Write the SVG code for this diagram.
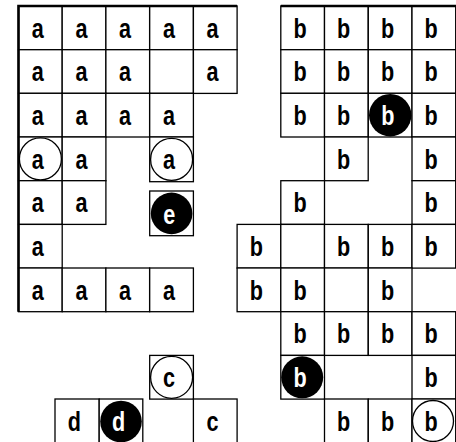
<svg xmlns="http://www.w3.org/2000/svg" width="456" height="442" viewBox="0 0 456 442">
<style>
.c rect{fill:#fff;stroke:#000;stroke-width:1.3}
.c text{font-family:"Liberation Sans",Arial,sans-serif;font-size:27px;font-weight:bold;text-anchor:middle;fill:#000;transform:translate(19.2px,31.6px) scaleX(0.8)}
.c .w{fill:#fff}
.ring{fill:#fff;stroke:#000;stroke-width:1.3}
.dot{fill:#000}
.edge{stroke:#000;stroke-width:2.6;fill:none}
</style>
<rect width="456" height="442" fill="#fff"/>
<g id="group-a">
<g id="a-r0c0" class="c" transform="translate(18.5,6)"><rect width="43.7" height="43.7"/><text>a</text></g>
<g id="a-r0c1" class="c" transform="translate(62.2,6)"><rect width="43.7" height="43.7"/><text>a</text></g>
<g id="a-r0c2" class="c" transform="translate(105.9,6)"><rect width="43.7" height="43.7"/><text>a</text></g>
<g id="a-r0c3" class="c" transform="translate(149.7,6)"><rect width="43.7" height="43.7"/><text>a</text></g>
<g id="a-r0c4" class="c" transform="translate(193.4,6)"><rect width="43.7" height="43.7"/><text>a</text></g>
<g id="a-r1c0" class="c" transform="translate(18.5,49.7)"><rect width="43.7" height="43.7"/><text>a</text></g>
<g id="a-r1c1" class="c" transform="translate(62.2,49.7)"><rect width="43.7" height="43.7"/><text>a</text></g>
<g id="a-r1c2" class="c" transform="translate(105.9,49.7)"><rect width="43.7" height="43.7"/><text>a</text></g>
<g id="a-r1c3" class="c" transform="translate(149.7,49.7)"><rect width="43.7" height="43.7"/></g>
<g id="a-r1c4" class="c" transform="translate(193.4,49.7)"><rect width="43.7" height="43.7"/><text>a</text></g>
<g id="a-r2c0" class="c" transform="translate(18.5,93.3)"><rect width="43.7" height="43.7"/><text>a</text></g>
<g id="a-r2c1" class="c" transform="translate(62.2,93.3)"><rect width="43.7" height="43.7"/><text>a</text></g>
<g id="a-r2c2" class="c" transform="translate(105.9,93.3)"><rect width="43.7" height="43.7"/><text>a</text></g>
<g id="a-r2c3" class="c" transform="translate(149.7,93.3)"><rect width="43.7" height="43.7"/><text>a</text></g>
<g id="a-r3c0" class="c" transform="translate(18.5,137)"><rect width="43.7" height="43.7"/><circle class="ring" cx="21.9" cy="21.9" r="21"/><text>a</text></g>
<g id="a-r3c1" class="c" transform="translate(62.2,137)"><rect width="43.7" height="43.7"/><text>a</text></g>
<g id="a-r3c3" class="c" transform="translate(149.7,137)"><rect width="43.7" height="44.7"/><circle class="ring" cx="21.9" cy="22.4" r="21"/><text y="0.5">a</text></g>
<g id="a-r4c0" class="c" transform="translate(18.5,180.7)"><rect width="43.7" height="43.7"/><text>a</text></g>
<g id="a-r4c1" class="c" transform="translate(62.2,180.7)"><rect width="43.7" height="43.7"/><text>a</text></g>
<g id="e-cell" class="c" transform="translate(149.7,191)"><rect width="43.7" height="44.7"/><circle class="dot" cx="21.9" cy="22.4" r="20.8"/><text class="w" x="0.3" y="1">e</text></g>
<g id="a-r5c0" class="c" transform="translate(18.5,224.4)"><rect width="43.7" height="43.7"/><text>a</text></g>
<g id="a-r6c0" class="c" transform="translate(18.5,268)"><rect width="43.7" height="43.7"/><text>a</text></g>
<g id="a-r6c1" class="c" transform="translate(62.2,268)"><rect width="43.7" height="43.7"/><text>a</text></g>
<g id="a-r6c2" class="c" transform="translate(105.9,268)"><rect width="43.7" height="43.7"/><text>a</text></g>
<g id="a-r6c3" class="c" transform="translate(149.7,268)"><rect width="43.7" height="43.7"/><text>a</text></g>
</g>
<g id="group-cd">
<g id="c-ring" class="c" transform="translate(149.7,355.4)"><rect width="43.7" height="43.7"/><circle class="ring" cx="21.9" cy="21.9" r="21"/><text>c</text></g>
<g id="c-cell" class="c" transform="translate(193.4,399)"><rect width="43.7" height="43.7"/><text>c</text></g>
<g id="d-cell" class="c" transform="translate(55,399)"><rect width="44.2" height="43.7"/><text x="0.3">d</text></g>
<g id="d-dot" class="c" transform="translate(99.2,399)"><rect width="43.6" height="43.7"/><circle class="dot" cx="21.8" cy="22.5" r="20.8"/><text class="w" x="0.3">d</text></g>
</g>
<g id="group-b">
<g id="b-r0c6" class="c" transform="translate(280.8,6)"><rect width="43.7" height="43.7"/><text>b</text></g>
<g id="b-r0c7" class="c" transform="translate(324.5,6)"><rect width="43.7" height="43.7"/><text>b</text></g>
<g id="b-r0c8" class="c" transform="translate(368.3,6)"><rect width="43.7" height="43.7"/><text>b</text></g>
<g id="b-r0c9" class="c" transform="translate(412,6)"><rect width="43.7" height="43.7"/><text>b</text></g>
<g id="b-r1c6" class="c" transform="translate(280.8,49.7)"><rect width="43.7" height="43.7"/><text>b</text></g>
<g id="b-r1c7" class="c" transform="translate(324.5,49.7)"><rect width="43.7" height="43.7"/><text>b</text></g>
<g id="b-r1c8" class="c" transform="translate(368.3,49.7)"><rect width="43.7" height="43.7"/><text>b</text></g>
<g id="b-r1c9" class="c" transform="translate(412,49.7)"><rect width="43.7" height="43.7"/><text>b</text></g>
<g id="b-r2c6" class="c" transform="translate(280.8,93.3)"><rect width="43.7" height="43.7"/><text>b</text></g>
<g id="b-r2c7" class="c" transform="translate(324.5,93.3)"><rect width="43.7" height="43.7"/><text>b</text></g>
<g id="b-r2c8" class="c" transform="translate(368.3,93.3)"><rect width="43.7" height="43.7"/><circle class="dot" cx="21.9" cy="21.9" r="21.2"/><text class="w" x="0.3">b</text></g>
<g id="b-r2c9" class="c" transform="translate(412,93.3)"><rect width="43.7" height="43.7"/><text>b</text></g>
<g id="b-r3c7" class="c" transform="translate(324.5,137)"><rect width="43.7" height="43.7"/><text>b</text></g>
<g id="b-r3c9" class="c" transform="translate(412,137)"><rect width="43.7" height="43.7"/><text>b</text></g>
<g id="b-r4c6" class="c" transform="translate(280.8,180.7)"><rect width="43.7" height="43.7"/><text>b</text></g>
<g id="b-r4c9" class="c" transform="translate(412,180.7)"><rect width="43.7" height="43.7"/><text>b</text></g>
<g id="b-r5c5" class="c" transform="translate(237.1,224.4)"><rect width="43.7" height="43.7"/><text>b</text></g>
<g id="b-r5c6" class="c" transform="translate(280.8,224.4)"><rect width="43.7" height="43.7"/></g>
<g id="b-r5c7" class="c" transform="translate(324.5,224.4)"><rect width="43.7" height="43.7"/><text>b</text></g>
<g id="b-r5c8" class="c" transform="translate(368.3,224.4)"><rect width="43.7" height="43.7"/><text>b</text></g>
<g id="b-r5c9" class="c" transform="translate(412,224.4)"><rect width="43.7" height="43.7"/><text>b</text></g>
<g id="b-r6c5" class="c" transform="translate(237.1,268)"><rect width="43.7" height="43.7"/><text>b</text></g>
<g id="b-r6c6" class="c" transform="translate(280.8,268)"><rect width="43.7" height="43.7"/><text>b</text></g>
<g id="b-r6c7" class="c" transform="translate(324.5,268)"><rect width="43.7" height="43.7"/></g>
<g id="b-r6c8" class="c" transform="translate(368.3,268)"><rect width="43.7" height="43.7"/><text>b</text></g>
<g id="b-r7c6" class="c" transform="translate(280.8,311.7)"><rect width="43.7" height="43.7"/><text>b</text></g>
<g id="b-r7c7" class="c" transform="translate(324.5,311.7)"><rect width="43.7" height="43.7"/><text>b</text></g>
<g id="b-r7c8" class="c" transform="translate(368.3,311.7)"><rect width="43.7" height="43.7"/><text>b</text></g>
<g id="b-r7c9" class="c" transform="translate(412,311.7)"><rect width="43.7" height="43.7"/><text>b</text></g>
<g id="b-r8c6" class="c" transform="translate(280.8,355.4)"><rect width="43.7" height="43.7"/><circle class="dot" cx="21.4" cy="21.9" r="21"/><text class="w">b</text></g>
<g id="b-r8c9" class="c" transform="translate(412,355.4)"><rect width="43.7" height="43.7"/><text>b</text></g>
<g id="b-r9c7" class="c" transform="translate(324.5,399)"><rect width="43.7" height="43.7"/><text>b</text></g>
<g id="b-r9c8" class="c" transform="translate(368.3,399)"><rect width="43.7" height="43.7"/><text>b</text></g>
<g id="b-r9c9" class="c" transform="translate(412,399)"><rect width="43.7" height="43.7"/><circle class="ring" cx="21" cy="22" r="20.5"/><text>b</text></g>
</g>
<g id="connectors">
<path class="edge" d="M18.5 311.7V6H237.1"/>
<path class="edge" d="M280.8 6H456"/>
</g>
</svg>
